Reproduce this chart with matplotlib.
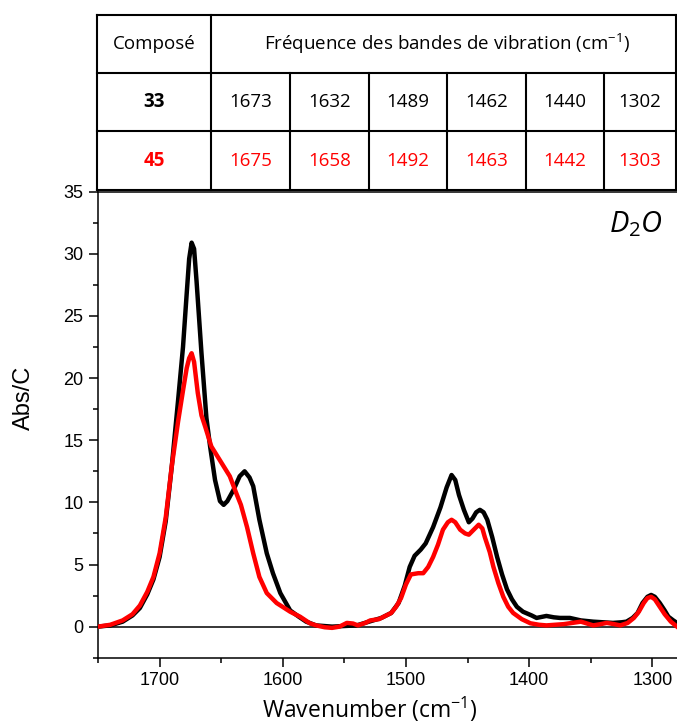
import numpy as np
import matplotlib
matplotlib.use("Agg")
import matplotlib.pyplot as plt
from matplotlib.ticker import MultipleLocator

plt.rcParams['mathtext.fontset'] = 'custom'
plt.rcParams['mathtext.rm'] = 'Open Sans'
plt.rcParams['mathtext.it'] = 'Open Sans:italic'

# IR spectra (Abs/C vs wavenumber), compound 33 in black, 45 in red
wn_33 = [1750, 1740, 1730, 1722, 1716, 1710, 1705, 1700, 1695, 1690, 1685, 1681,
         1678, 1676, 1674, 1672, 1670, 1666, 1662, 1659, 1655, 1651, 1648, 1645,
         1640, 1635, 1631, 1627, 1624, 1619, 1613, 1608, 1602, 1594, 1587, 1581,
         1573, 1560, 1550, 1540, 1530, 1520, 1512, 1506, 1501, 1497, 1493, 1488,
         1484, 1478, 1472, 1467, 1463, 1460, 1457, 1453, 1449, 1446, 1443, 1440,
         1437, 1434, 1430, 1426, 1422, 1418, 1414, 1410, 1405, 1398, 1394, 1386,
         1380, 1375, 1367, 1358, 1348, 1340, 1332, 1325, 1321, 1316, 1312, 1308,
         1304, 1301, 1298, 1294, 1290, 1287, 1283, 1280]
abs_33 = [0.0, 0.1, 0.4, 0.9, 1.5, 2.6, 3.8, 5.6, 8.5, 13.0, 18.2, 22.5,
          26.8, 29.6, 30.9, 30.4, 27.8, 22.0, 16.8, 14.5, 11.8, 10.1, 9.8, 10.1,
          11.0, 12.1, 12.5, 12.0, 11.3, 8.6, 5.9, 4.3, 2.7, 1.3, 0.8, 0.4,
          0.1, 0.0, 0.05, 0.1, 0.4, 0.7, 1.1, 1.9, 3.3, 4.8, 5.7, 6.2,
          6.7, 8.0, 9.6, 11.2, 12.2, 11.8, 10.6, 9.4, 8.4, 8.7, 9.2, 9.4,
          9.2, 8.6, 7.2, 5.6, 4.2, 3.0, 2.2, 1.6, 1.2, 0.9, 0.7, 0.86,
          0.75, 0.7, 0.7, 0.5, 0.4, 0.35, 0.3, 0.35, 0.4, 0.7, 1.1, 1.9,
          2.4, 2.55, 2.4, 1.9, 1.3, 0.8, 0.5, 0.3]

wn_45 = [1750, 1740, 1730, 1722, 1716, 1710, 1705, 1700, 1695, 1690, 1685, 1681,
         1678, 1676, 1674, 1672, 1669, 1666, 1663, 1658, 1653, 1648, 1643, 1638,
         1634, 1629, 1624, 1619, 1613, 1605, 1594, 1586, 1578, 1573, 1566, 1560,
         1554, 1548, 1543, 1539, 1533, 1529, 1522, 1518, 1512, 1508, 1504, 1500,
         1496, 1490, 1486, 1482, 1478, 1474, 1470, 1466, 1463, 1460, 1456, 1452,
         1449, 1445, 1441, 1438, 1436, 1432, 1429, 1425, 1421, 1417, 1413, 1406,
         1399, 1392, 1386, 1379, 1372, 1365, 1358, 1353, 1348, 1342, 1337, 1331,
         1326, 1320, 1315, 1311, 1307, 1304, 1301, 1298, 1294, 1290, 1285, 1280]
abs_45 = [0.0, 0.15, 0.5, 1.0, 1.7, 2.8, 4.0, 5.9, 8.8, 13.0, 16.5, 19.0,
          20.8, 21.6, 22.0, 21.3, 18.8, 17.0, 16.1, 14.5, 13.7, 12.9, 12.1, 10.8,
          9.8, 8.0, 5.9, 4.0, 2.7, 1.9, 1.2, 0.8, 0.27, 0.1, -0.05, -0.1,
          0.0, 0.3, 0.25, 0.1, 0.3, 0.5, 0.6, 0.8, 1.1, 1.6, 2.3, 3.4,
          4.2, 4.3, 4.3, 4.8, 5.6, 6.6, 7.8, 8.4, 8.6, 8.4, 7.8, 7.5,
          7.4, 7.8, 8.2, 7.9, 7.2, 6.0, 4.8, 3.5, 2.4, 1.6, 1.1, 0.6,
          0.27, 0.15, 0.1, 0.15, 0.2, 0.3, 0.4, 0.25, 0.1, 0.2, 0.3, 0.2,
          0.1, 0.3, 0.7, 1.2, 1.9, 2.3, 2.4, 2.2, 1.6, 1.0, 0.4, 0.0]

# band table
compounds = ['33', '45']
bands_33 = [1673, 1632, 1489, 1462, 1440, 1302]
bands_45 = [1675, 1658, 1492, 1463, 1442, 1303]
row_colors = ['black', '#ff0000']

W, H = 677, 727
fig = plt.figure(figsize=(W / 100, H / 100), dpi=100)

# spectrum axes
ax = fig.add_axes([98 / W, (H - 657.7) / H, 1 - 98 / W, (657.7 - 191.7) / H])
ax.axhline(0, color='black', lw=1.1, zorder=1)
ax.plot(wn_33, abs_33, color='black', lw=3.2, solid_joinstyle='round', zorder=2)
ax.plot(wn_45, abs_45, color='#ff0000', lw=3.2, solid_joinstyle='round', zorder=3)

ax.set_xlim(1750, 1280)
ax.set_ylim(-2.5, 35)
ax.xaxis.set_major_locator(MultipleLocator(100))
ax.xaxis.set_minor_locator(MultipleLocator(50))
ax.yaxis.set_major_locator(MultipleLocator(5))
ax.yaxis.set_minor_locator(MultipleLocator(2.5))
ax.tick_params(which='major', direction='out', length=6.5, width=1.1,
               labelsize=13, pad=4)
ax.tick_params(which='minor', direction='out', length=3.5, width=1.1)
for lab in ax.get_xticklabels() + ax.get_yticklabels():
    lab.set_fontfamily('Liberation Sans')
ax.spines['right'].set_visible(False)
for s in ['left', 'bottom', 'top']:
    ax.spines[s].set_linewidth(1.1)

fig.text(609 / W, (H - 232) / H, r'$\mathit{D_2O}$', fontsize=21,
         ha='left', va='baseline')
fig.text(24 / W, (H - 398) / H, 'Abs/C', fontsize=17, rotation=90,
         ha='center', va='center', family='Liberation Sans')
fig.text(370 / W, (H - 718) / H, r'Wavenumber (cm$^{-1}$)', fontsize=16.5,
         ha='center', va='baseline', family='Open Sans')

# table drawn in pixel coordinates on an overlay axes
tab = fig.add_axes([0, 0, 1, 1])
tab.set_xlim(0, W)
tab.set_ylim(H, 0)
tab.axis('off')

x0, x1 = 97, 676
y_rows = [15, 72.5, 131, 190]
x_cols = [211, 290, 368.5, 447, 526, 604, x1]
lw = 1.5
for y in y_rows:
    tab.plot([x0, x1], [y, y], color='black', lw=lw)
tab.plot([x0, x0], [y_rows[0], y_rows[-1]], color='black', lw=lw)
tab.plot([x_cols[0], x_cols[0]], [y_rows[0], y_rows[-1]], color='black', lw=lw)
tab.plot([x1, x1], [y_rows[0], y_rows[-1]], color='black', lw=lw)
for xc in x_cols[1:-1]:
    tab.plot([xc, xc], [y_rows[1], y_rows[-1]], color='black', lw=lw)

fs = 13.5
tab.text((x0 + x_cols[0]) / 2, (y_rows[0] + y_rows[1]) / 2, 'Composé',
         ha='center', va='center', fontsize=fs, family='Open Sans')
tab.text(447, (y_rows[0] + y_rows[1]) / 2,
         r'Fréquence des bandes de vibration (cm$^{-1}$)',
         ha='center', va='center', fontsize=fs, family='Open Sans')
for i, (name, vals) in enumerate(zip(compounds, [bands_33, bands_45])):
    yc = (y_rows[i + 1] + y_rows[i + 2]) / 2
    tab.text((x0 + x_cols[0]) / 2, yc, name, ha='center', va='center',
             fontsize=fs, family='Open Sans', weight='bold', color=row_colors[i])
    for j, v in enumerate(vals):
        xc = (x_cols[j] + x_cols[j + 1]) / 2
        tab.text(xc, yc, str(v), ha='center', va='center', fontsize=fs,
                 family='Open Sans', color=row_colors[i])

fig.savefig('out.png', dpi=100)
